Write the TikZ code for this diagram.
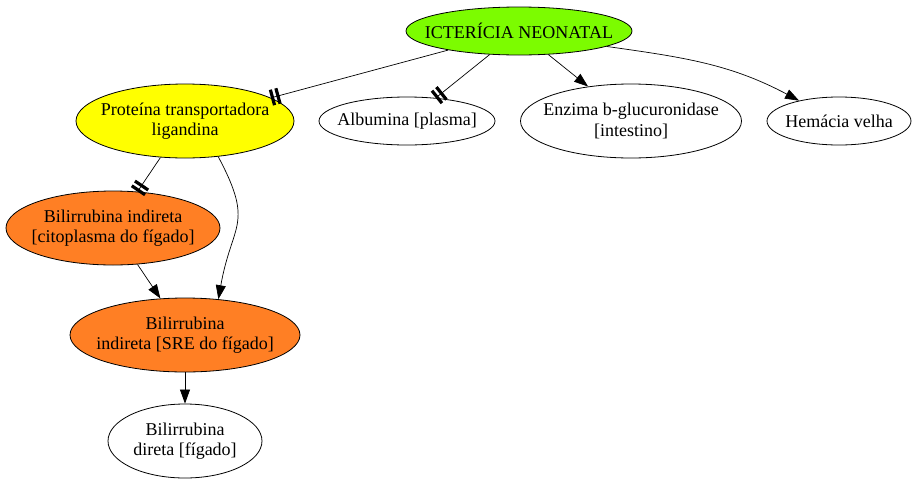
\documentclass[tikz,border=0pt]{standalone}
\usepackage{fontspec}
\setmainfont{Liberation Serif}
\usepackage{tikz}
\usetikzlibrary{shapes.geometric,arrows.meta}
\definecolor{rootGreen}{HTML}{7CFC00}
\definecolor{protYellow}{HTML}{FFFF00}
\definecolor{biliOrange}{HTML}{FF7F24}
\tikzset{
  conc/.style={ellipse, draw=black, line width=0.8pt, inner sep=0pt, fill=white},
  concText/.style={align=center, font=\fontsize{18}{20.5}\selectfont, inner sep=0pt},
  rootConc/.style={conc, fill=rootGreen},
  protConc/.style={conc, fill=protYellow},
  biliConc/.style={conc, fill=biliOrange},
  edgeArrow/.style={-{Triangle[length=14pt,width=10pt]}, draw=black, line width=0.7pt},
  edgeTee/.style={-{Bar[width=16pt,line width=3.2pt,sep=2.5pt]Bar[width=16pt,line width=3.2pt]},
    draw=black, line width=0.7pt}
}
\begin{document}
\begin{tikzpicture}[x=1pt,y=1pt]
  \useasboundingbox (0,0) rectangle (916,-485);

  \node[rootConc, minimum width=226pt, minimum height=48pt,
    label={[concText]center:ICTERÍCIA NEONATAL}] (ict) at (519,-31) {};
  \node[protConc, minimum width=218pt, minimum height=74pt,
    label={[concText]center:{Proteína transportadora\\ligandina}}] (prot) at (185,-121) {};
  \node[conc, minimum width=176pt, minimum height=48pt,
    label={[concText]center:Albumina [plasma]}] (alb) at (407,-121) {};
  \node[conc, minimum width=221pt, minimum height=74pt,
    label={[concText]center:{Enzima b-glucuronidase\\{}[intestino]}}] (enz) at (631,-121) {};
  \node[conc, minimum width=144pt, minimum height=48pt,
    label={[concText]center:Hemácia velha}] (hem) at (839,-121) {};
  \node[biliConc, minimum width=214pt, minimum height=74pt,
    label={[concText]center:{Bilirrubina indireta\\{}[citoplasma do fígado]}}] (bcit) at (113,-228) {};
  \node[biliConc, minimum width=230pt, minimum height=74pt,
    label={[concText]center:{Bilirrubina\\indireta [SRE do fígado]}}] (bsre) at (185,-335) {};
  \node[conc, minimum width=154pt, minimum height=74pt,
    label={[concText]center:{Bilirrubina\\direta [fígado]}}] (bdir) at (185,-441) {};

  \draw[edgeTee] (ict) -- (prot);
  \draw[edgeTee] (ict) -- (alb);
  \draw[edgeArrow] (ict) -- (enz);
  \draw[edgeArrow] (ict.-10) to[out=-8,in=152] (hem.153);
  \draw[edgeTee] (prot) -- (bcit);
  \draw[edgeArrow] (prot.-47) to[out=-62,in=80,looseness=1.4] (bsre.47);
  \draw[edgeArrow] (bcit) -- (bsre);
  \draw[edgeArrow] (bsre) -- (bdir);
\end{tikzpicture}
\end{document}
